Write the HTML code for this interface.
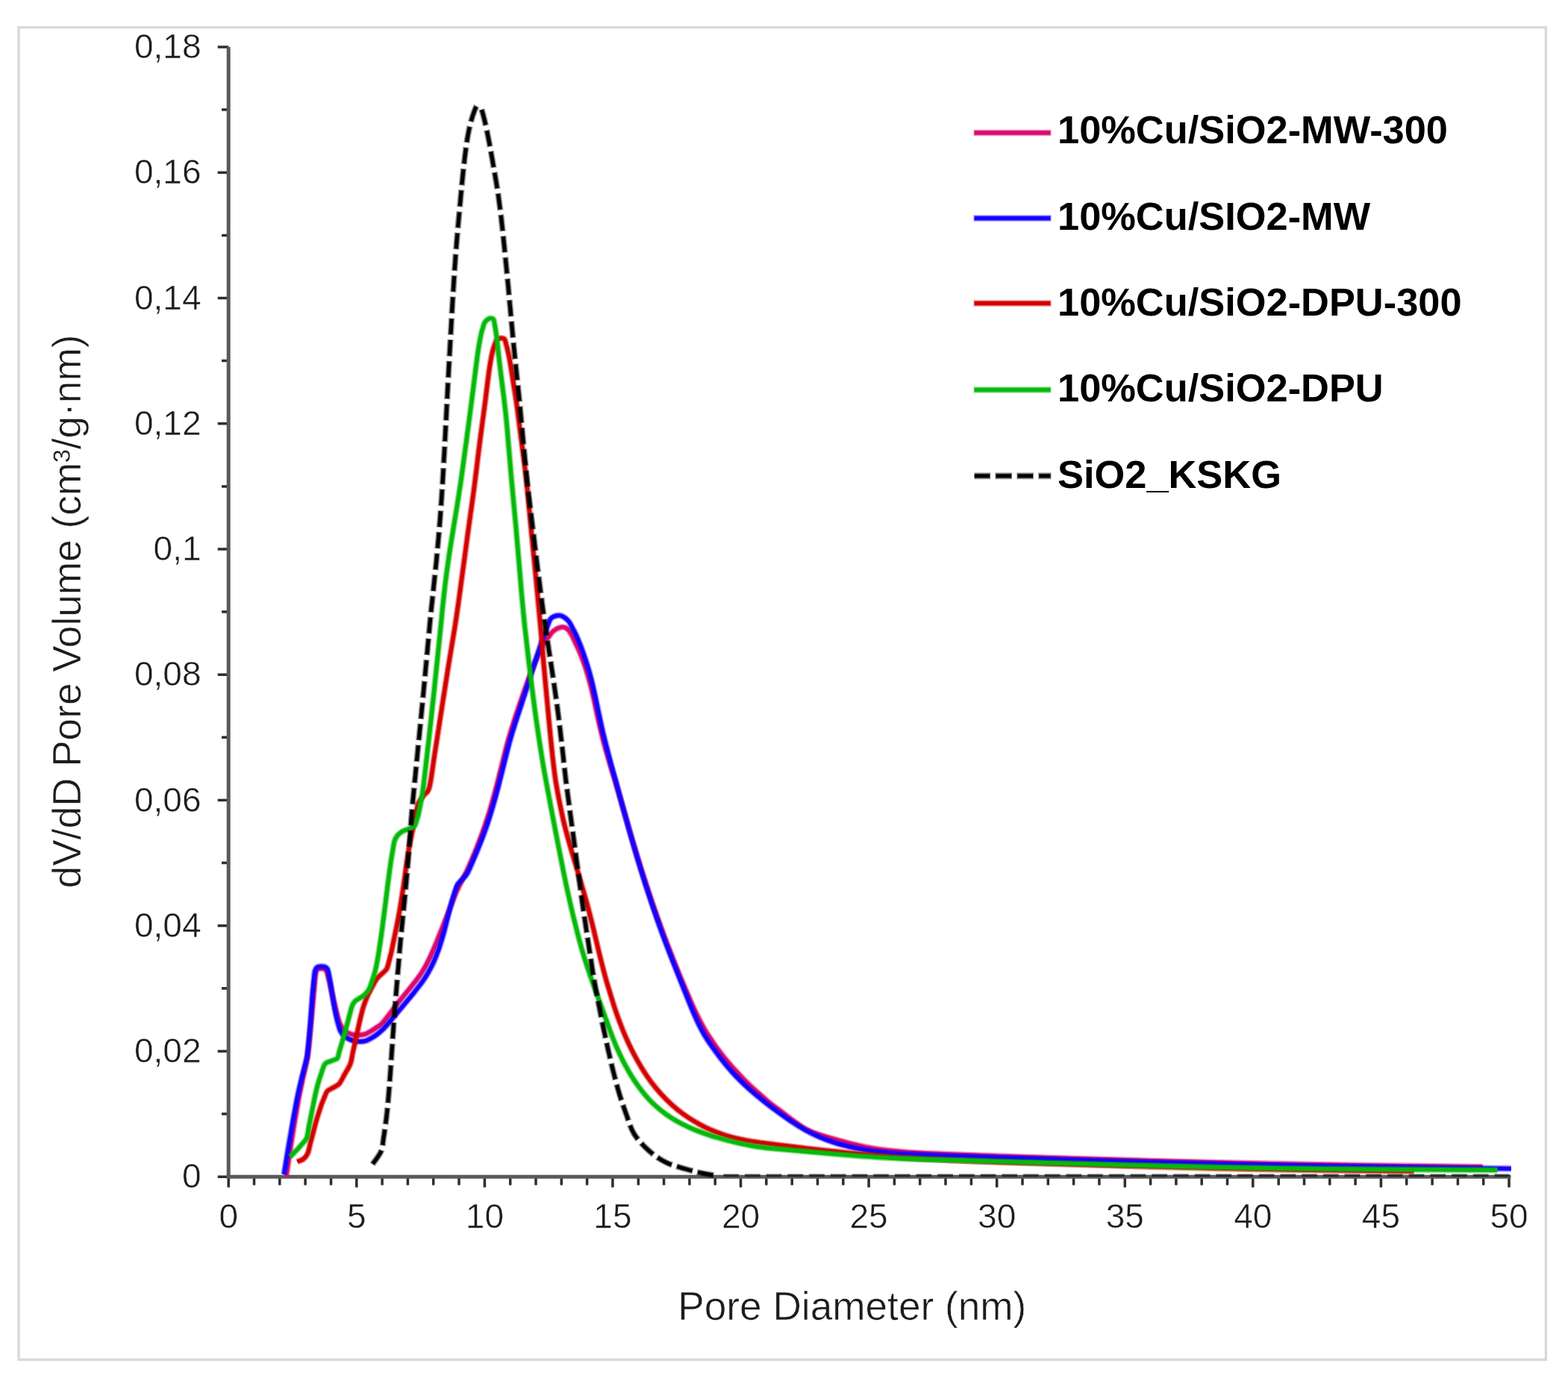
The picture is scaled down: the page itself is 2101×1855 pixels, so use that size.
<!DOCTYPE html>
<html lang="en"><head><meta charset="utf-8"><title>Pore size distribution</title>
<style>
html,body{margin:0;padding:0;background:#fff;}
body{width:2101px;height:1855px;overflow:hidden;}
svg{display:block;}
text{font-family:"Liberation Sans",Arial,Helvetica,sans-serif;}
.tick{font-size:46px;fill:#1c1c1c;stroke:#fff;stroke-width:0.5px;stroke-linejoin:round;}
.title{font-size:53.2px;fill:#1c1c1c;stroke:#fff;stroke-width:0.6px;stroke-linejoin:round;}
.leg{font-size:52.4px;font-weight:bold;fill:#000;}
.curve{fill:none;stroke-linejoin:round;stroke-linecap:butt;}
</style></head><body>
<svg xmlns="http://www.w3.org/2000/svg" width="2101" height="1855" viewBox="0 0 2101 1855">
<g>
<rect x="0" y="0" width="2101" height="1855" fill="#fff"/>
<rect x="25.0" y="36.7" width="2046.4" height="1785.6" fill="none" stroke="#d9d9d9" stroke-width="3.4"/>
<path d="M291.7 1577.2H306.2M297.0 1493.1H306.2M291.7 1409.0H306.2M297.0 1324.8H306.2M291.7 1240.7H306.2M297.0 1156.6H306.2M291.7 1072.5H306.2M297.0 988.3H306.2M291.7 904.2H306.2M297.0 820.1H306.2M291.7 736.0H306.2M297.0 651.9H306.2M291.7 567.7H306.2M297.0 483.6H306.2M291.7 399.5H306.2M297.0 315.4H306.2M291.7 231.2H306.2M297.0 147.1H306.2M291.7 63.0H306.2" stroke="#2e2e2e" stroke-width="3.5" fill="none"/>
<path d="M306.2 1577.2V1591.6M340.5 1577.2V1588.6M374.8 1577.2V1588.6M409.1 1577.2V1588.6M443.5 1577.2V1588.6M477.8 1577.2V1591.6M512.1 1577.2V1588.6M546.4 1577.2V1588.6M580.7 1577.2V1588.6M615.0 1577.2V1588.6M649.4 1577.2V1591.6M683.7 1577.2V1588.6M718.0 1577.2V1588.6M752.3 1577.2V1588.6M786.6 1577.2V1588.6M820.9 1577.2V1591.6M855.3 1577.2V1588.6M889.6 1577.2V1588.6M923.9 1577.2V1588.6M958.2 1577.2V1588.6M992.5 1577.2V1591.6M1026.8 1577.2V1588.6M1061.2 1577.2V1588.6M1095.5 1577.2V1588.6M1129.8 1577.2V1588.6M1164.1 1577.2V1591.6M1198.4 1577.2V1588.6M1232.7 1577.2V1588.6M1267.0 1577.2V1588.6M1301.4 1577.2V1588.6M1335.7 1577.2V1591.6M1370.0 1577.2V1588.6M1404.3 1577.2V1588.6M1438.6 1577.2V1588.6M1472.9 1577.2V1588.6M1507.3 1577.2V1591.6M1541.6 1577.2V1588.6M1575.9 1577.2V1588.6M1610.2 1577.2V1588.6M1644.5 1577.2V1588.6M1678.8 1577.2V1591.6M1713.2 1577.2V1588.6M1747.5 1577.2V1588.6M1781.8 1577.2V1588.6M1816.1 1577.2V1588.6M1850.4 1577.2V1591.6M1884.7 1577.2V1588.6M1919.1 1577.2V1588.6M1953.4 1577.2V1588.6M1987.7 1577.2V1588.6M2022.0 1577.2V1591.6" stroke="#2e2e2e" stroke-width="3.5" fill="none"/>
<path d="M306.2 63.0V1579.7" stroke="#5a5a5a" stroke-width="5.0" fill="none"/>
<path d="M303.7 1577.2H2024.5" stroke="#5a5a5a" stroke-width="5.0" fill="none"/>
<path d="M966.0 1575.4H2022.5" stroke="#000" stroke-width="3.6" stroke-dasharray="20.7 8" stroke-dashoffset="25.4" fill="none" opacity="0.6"/>
<path class="curve" d="M383.5 1577.0C384.8 1568.4 388.5 1542.7 391.2 1525.6C393.9 1508.5 397.4 1487.9 399.8 1474.5C402.3 1461.0 404.0 1453.5 405.9 1444.9C407.8 1436.3 409.8 1428.3 410.9 1422.7C412.1 1417.0 411.9 1419.4 412.9 1410.9C413.9 1402.4 415.4 1386.1 416.7 1371.8C418.1 1357.4 419.9 1336.2 421.0 1324.9C422.0 1313.5 422.3 1308.0 423.2 1303.7C424.1 1299.4 424.8 1299.9 426.4 1299.0C428.0 1298.1 430.8 1297.8 432.6 1298.2C434.4 1298.6 436.1 1299.4 437.3 1301.3C438.5 1303.2 438.7 1305.4 439.7 1309.3C440.8 1313.2 442.2 1319.0 443.5 1324.8C444.9 1330.7 446.5 1338.5 447.9 1344.3C449.3 1350.2 450.6 1355.3 451.8 1359.9C453.1 1364.5 453.9 1368.5 455.3 1371.8C456.7 1375.1 458.2 1377.5 460.0 1379.6C461.8 1381.7 463.9 1383.1 466.3 1384.3C468.7 1385.5 471.5 1386.5 474.1 1387.0C476.7 1387.5 479.3 1387.6 481.9 1387.4C484.5 1387.2 487.2 1386.8 489.8 1385.9C492.4 1385.0 494.8 1383.3 497.3 1381.8C499.8 1380.3 502.4 1378.6 505.0 1376.7C507.7 1374.8 508.5 1375.6 513.2 1370.2C517.9 1364.8 527.6 1351.5 533.3 1344.2C539.1 1336.8 543.6 1331.5 547.9 1326.1C552.2 1320.7 556.1 1316.1 559.3 1311.7C562.5 1307.4 564.5 1304.4 567.1 1300.1C569.7 1295.9 572.2 1291.2 574.7 1286.0C577.2 1280.8 580.0 1274.4 582.3 1269.0C584.6 1263.6 586.5 1258.6 588.5 1253.7C590.5 1248.7 592.1 1244.7 594.4 1239.0C596.7 1233.2 599.6 1225.7 602.2 1219.2C604.7 1212.7 607.6 1205.1 609.7 1199.8C611.8 1194.6 613.5 1191.1 615.1 1187.8C616.7 1184.5 617.6 1183.0 619.2 1179.8C620.9 1176.7 622.8 1173.1 624.9 1168.7C627.0 1164.3 629.3 1159.1 631.7 1153.4C634.1 1147.7 636.9 1140.9 639.4 1134.5C641.9 1128.1 644.6 1121.1 646.8 1115.0C649.0 1108.9 650.7 1103.9 652.6 1097.9C654.6 1091.9 656.6 1085.4 658.4 1078.9C660.3 1072.5 661.9 1066.6 663.8 1059.4C665.8 1052.2 667.9 1043.5 669.9 1035.5C672.0 1027.4 674.1 1018.5 676.0 1011.1C677.9 1003.6 679.6 997.0 681.4 990.6C683.2 984.2 684.6 979.6 686.8 972.7C689.0 965.7 691.8 957.3 694.6 948.9C697.5 940.5 700.5 931.6 703.8 922.3C707.1 913.0 711.5 901.1 714.7 893.3C717.8 885.4 720.0 880.7 722.5 875.3C724.9 869.8 727.4 864.2 729.6 860.5C731.8 856.8 733.6 855.6 735.5 853.1C737.5 850.7 738.7 847.9 741.4 845.8C744.1 843.7 748.8 841.3 751.7 840.7C754.6 840.1 756.9 840.8 759.0 842.1C761.1 843.4 762.7 845.6 764.6 848.7C766.5 851.8 768.5 856.3 770.5 860.5C772.5 864.7 774.3 868.4 776.6 873.8C778.8 879.3 781.6 886.2 783.9 893.1C786.2 900.0 788.5 907.7 790.4 915.0C792.4 922.3 794.0 929.5 795.7 936.8C797.3 944.1 798.8 951.5 800.4 958.9C802.1 966.2 803.6 973.4 805.4 980.8C807.2 988.1 809.1 995.5 811.1 1002.9C813.2 1010.2 815.3 1017.5 817.5 1024.8C819.7 1032.2 823.0 1042.5 824.5 1047.0C825.9 1051.6 822.8 1041.0 825.9 1052.0C829.1 1063.0 838.0 1094.3 843.4 1112.9C848.9 1131.5 853.8 1147.9 858.8 1163.7C863.8 1179.6 868.3 1193.3 873.3 1207.9C878.3 1222.6 883.9 1238.2 888.9 1251.7C893.9 1265.2 898.9 1277.6 903.3 1288.9C907.8 1300.1 910.9 1307.9 915.7 1319.1C920.5 1330.4 926.7 1345.3 932.0 1356.3C937.3 1367.3 941.2 1375.2 947.5 1385.3C953.8 1395.4 961.2 1406.2 969.7 1416.8C978.2 1427.3 989.1 1439.1 998.7 1448.8C1008.2 1458.5 1019.9 1468.4 1027.1 1474.7C1034.4 1480.9 1033.2 1479.8 1042.1 1486.3C1051.1 1492.9 1067.9 1507.1 1081.0 1514.0C1094.1 1520.9 1107.8 1523.8 1120.9 1527.6C1134.0 1531.5 1146.5 1534.7 1159.4 1537.3C1172.2 1539.8 1184.7 1541.4 1198.1 1542.8C1211.6 1544.3 1216.4 1544.7 1240.0 1545.8C1263.7 1546.9 1306.7 1548.4 1340.0 1549.6C1373.3 1550.8 1406.7 1551.7 1440.0 1552.7C1473.3 1553.7 1506.7 1554.7 1540.0 1555.7C1573.3 1556.6 1606.7 1557.5 1640.0 1558.3C1673.3 1559.0 1706.7 1559.7 1740.0 1560.4C1773.3 1561.0 1808.3 1561.6 1840.0 1562.1C1871.7 1562.6 1905.6 1563.0 1930.0 1563.3C1954.4 1563.6 1977.1 1563.9 1986.5 1564.0" stroke="#dc0a6e" stroke-width="8.60" stroke-opacity="0.45"/>
<path class="curve" d="M383.5 1577.0C384.8 1568.4 388.5 1542.7 391.2 1525.6C393.9 1508.5 397.4 1487.9 399.8 1474.5C402.3 1461.0 404.0 1453.5 405.9 1444.9C407.8 1436.3 409.8 1428.3 410.9 1422.7C412.1 1417.0 411.9 1419.4 412.9 1410.9C413.9 1402.4 415.4 1386.1 416.7 1371.8C418.1 1357.4 419.9 1336.2 421.0 1324.9C422.0 1313.5 422.3 1308.0 423.2 1303.7C424.1 1299.4 424.8 1299.9 426.4 1299.0C428.0 1298.1 430.8 1297.8 432.6 1298.2C434.4 1298.6 436.1 1299.4 437.3 1301.3C438.5 1303.2 438.7 1305.4 439.7 1309.3C440.8 1313.2 442.2 1319.0 443.5 1324.8C444.9 1330.7 446.5 1338.5 447.9 1344.3C449.3 1350.2 450.6 1355.3 451.8 1359.9C453.1 1364.5 453.9 1368.5 455.3 1371.8C456.7 1375.1 458.2 1377.5 460.0 1379.6C461.8 1381.7 463.9 1383.1 466.3 1384.3C468.7 1385.5 471.5 1386.5 474.1 1387.0C476.7 1387.5 479.3 1387.6 481.9 1387.4C484.5 1387.2 487.2 1386.8 489.8 1385.9C492.4 1385.0 494.8 1383.3 497.3 1381.8C499.8 1380.3 502.4 1378.6 505.0 1376.7C507.7 1374.8 508.5 1375.6 513.2 1370.2C517.9 1364.8 527.6 1351.5 533.3 1344.2C539.1 1336.8 543.6 1331.5 547.9 1326.1C552.2 1320.7 556.1 1316.1 559.3 1311.7C562.5 1307.4 564.5 1304.4 567.1 1300.1C569.7 1295.9 572.2 1291.2 574.7 1286.0C577.2 1280.8 580.0 1274.4 582.3 1269.0C584.6 1263.6 586.5 1258.6 588.5 1253.7C590.5 1248.7 592.1 1244.7 594.4 1239.0C596.7 1233.2 599.6 1225.7 602.2 1219.2C604.7 1212.7 607.6 1205.1 609.7 1199.8C611.8 1194.6 613.5 1191.1 615.1 1187.8C616.7 1184.5 617.6 1183.0 619.2 1179.8C620.9 1176.7 622.8 1173.1 624.9 1168.7C627.0 1164.3 629.3 1159.1 631.7 1153.4C634.1 1147.7 636.9 1140.9 639.4 1134.5C641.9 1128.1 644.6 1121.1 646.8 1115.0C649.0 1108.9 650.7 1103.9 652.6 1097.9C654.6 1091.9 656.6 1085.4 658.4 1078.9C660.3 1072.5 661.9 1066.6 663.8 1059.4C665.8 1052.2 667.9 1043.5 669.9 1035.5C672.0 1027.4 674.1 1018.5 676.0 1011.1C677.9 1003.6 679.6 997.0 681.4 990.6C683.2 984.2 684.6 979.6 686.8 972.7C689.0 965.7 691.8 957.3 694.6 948.9C697.5 940.5 700.5 931.6 703.8 922.3C707.1 913.0 711.5 901.1 714.7 893.3C717.8 885.4 720.0 880.7 722.5 875.3C724.9 869.8 727.4 864.2 729.6 860.5C731.8 856.8 733.6 855.6 735.5 853.1C737.5 850.7 738.7 847.9 741.4 845.8C744.1 843.7 748.8 841.3 751.7 840.7C754.6 840.1 756.9 840.8 759.0 842.1C761.1 843.4 762.7 845.6 764.6 848.7C766.5 851.8 768.5 856.3 770.5 860.5C772.5 864.7 774.3 868.4 776.6 873.8C778.8 879.3 781.6 886.2 783.9 893.1C786.2 900.0 788.5 907.7 790.4 915.0C792.4 922.3 794.0 929.5 795.7 936.8C797.3 944.1 798.8 951.5 800.4 958.9C802.1 966.2 803.6 973.4 805.4 980.8C807.2 988.1 809.1 995.5 811.1 1002.9C813.2 1010.2 815.3 1017.5 817.5 1024.8C819.7 1032.2 823.0 1042.5 824.5 1047.0C825.9 1051.6 822.8 1041.0 825.9 1052.0C829.1 1063.0 838.0 1094.3 843.4 1112.9C848.9 1131.5 853.8 1147.9 858.8 1163.7C863.8 1179.6 868.3 1193.3 873.3 1207.9C878.3 1222.6 883.9 1238.2 888.9 1251.7C893.9 1265.2 898.9 1277.6 903.3 1288.9C907.8 1300.1 910.9 1307.9 915.7 1319.1C920.5 1330.4 926.7 1345.3 932.0 1356.3C937.3 1367.3 941.2 1375.2 947.5 1385.3C953.8 1395.4 961.2 1406.2 969.7 1416.8C978.2 1427.3 989.1 1439.1 998.7 1448.8C1008.2 1458.5 1019.9 1468.4 1027.1 1474.7C1034.4 1480.9 1033.2 1479.8 1042.1 1486.3C1051.1 1492.9 1067.9 1507.1 1081.0 1514.0C1094.1 1520.9 1107.8 1523.8 1120.9 1527.6C1134.0 1531.5 1146.5 1534.7 1159.4 1537.3C1172.2 1539.8 1184.7 1541.4 1198.1 1542.8C1211.6 1544.3 1216.4 1544.7 1240.0 1545.8C1263.7 1546.9 1306.7 1548.4 1340.0 1549.6C1373.3 1550.8 1406.7 1551.7 1440.0 1552.7C1473.3 1553.7 1506.7 1554.7 1540.0 1555.7C1573.3 1556.6 1606.7 1557.5 1640.0 1558.3C1673.3 1559.0 1706.7 1559.7 1740.0 1560.4C1773.3 1561.0 1808.3 1561.6 1840.0 1562.1C1871.7 1562.6 1905.6 1563.0 1930.0 1563.3C1954.4 1563.6 1977.1 1563.9 1986.5 1564.0" stroke="#dc0a6e" stroke-width="5.40"/>
<path class="curve" d="M380.5 1574.0C381.8 1565.9 385.6 1542.1 388.5 1525.6C391.3 1509.0 395.0 1487.9 397.6 1474.5C400.2 1461.1 402.2 1453.7 404.2 1445.0C406.3 1436.4 408.6 1428.3 410.0 1422.6C411.3 1416.9 411.3 1418.0 412.1 1410.9C413.0 1403.7 414.4 1388.7 415.2 1379.6C416.0 1370.5 416.4 1363.9 417.0 1356.1C417.6 1348.3 418.1 1339.7 418.7 1332.6C419.3 1325.6 420.0 1319.1 420.5 1313.9C421.1 1308.6 421.4 1304.2 422.1 1301.3C422.8 1298.4 423.6 1297.6 424.8 1296.6C426.0 1295.6 427.8 1295.5 429.5 1295.4C431.2 1295.3 433.4 1295.2 435.0 1295.8C436.6 1296.4 437.9 1297.2 438.9 1299.0C439.9 1300.8 440.1 1303.9 440.8 1306.9C441.4 1309.9 442.0 1313.4 442.7 1317.0C443.3 1320.7 443.9 1324.8 444.5 1328.7C445.1 1332.6 445.7 1336.6 446.4 1340.5C447.0 1344.4 447.7 1348.3 448.4 1352.2C449.2 1356.1 450.0 1360.2 450.9 1363.8C451.7 1367.5 452.6 1370.9 453.5 1373.9C454.4 1377.0 454.9 1379.5 456.1 1381.9C457.3 1384.3 459.0 1386.4 460.8 1388.2C462.6 1390.0 464.8 1391.3 467.1 1392.5C469.5 1393.7 472.3 1394.6 474.9 1395.2C477.5 1395.8 480.1 1396.0 482.7 1396.0C485.3 1396.0 487.9 1395.7 490.5 1394.9C493.1 1394.1 495.5 1392.5 498.1 1391.1C500.6 1389.6 503.2 1388.0 505.8 1386.0C508.3 1384.0 511.0 1381.7 513.6 1379.2C516.2 1376.6 517.0 1375.7 521.4 1370.6C525.8 1365.4 534.5 1354.7 540.0 1348.2C545.4 1341.6 549.7 1336.6 554.1 1331.2C558.4 1325.8 562.8 1320.3 566.0 1315.8C569.3 1311.2 571.0 1308.5 573.6 1303.9C576.2 1299.4 579.2 1293.6 581.5 1288.4C583.8 1283.2 585.6 1278.6 587.7 1272.8C589.7 1267.0 592.1 1259.1 593.7 1253.5C595.4 1247.8 596.0 1244.9 597.6 1238.9C599.1 1232.9 601.1 1224.3 602.9 1217.5C604.7 1210.7 606.8 1203.4 608.5 1198.2C610.1 1193.0 611.2 1189.2 612.8 1186.1C614.4 1183.0 616.0 1182.4 618.2 1179.8C620.5 1177.2 623.6 1174.7 626.1 1170.5C628.6 1166.3 630.8 1160.5 633.4 1154.6C636.0 1148.7 639.0 1141.6 641.6 1135.1C644.3 1128.6 646.9 1121.7 649.1 1115.5C651.4 1109.4 653.1 1104.4 655.0 1098.4C657.0 1092.4 659.0 1085.9 660.8 1079.4C662.7 1073.0 664.3 1067.1 666.2 1059.9C668.2 1052.7 670.3 1044.0 672.3 1036.0C674.4 1027.9 676.5 1019.0 678.4 1011.6C680.3 1004.1 682.0 997.5 683.8 991.1C685.6 984.7 687.0 980.1 689.2 973.2C691.4 966.2 694.2 957.9 697.0 949.4C699.8 940.9 702.8 931.5 705.9 922.1C708.9 912.7 712.6 900.7 715.1 892.9C717.6 885.1 718.9 881.1 720.8 875.2C722.8 869.3 724.7 863.3 726.8 857.5C728.8 851.7 731.3 845.1 733.2 840.4C735.1 835.6 735.9 831.6 738.2 829.0C740.5 826.4 744.3 825.4 747.0 825.0C749.7 824.6 752.1 825.2 754.6 826.5C757.1 827.8 759.8 830.0 761.9 832.6C764.0 835.2 765.6 838.8 767.4 842.2C769.2 845.7 770.8 848.5 772.9 853.3C775.0 858.1 777.7 864.4 780.1 871.1C782.5 877.7 785.2 885.7 787.4 893.0C789.7 900.3 791.6 907.6 793.4 914.9C795.2 922.2 796.7 929.5 798.3 936.8C799.9 944.1 801.3 951.6 802.9 958.9C804.5 966.2 806.0 973.4 807.7 980.8C809.4 988.1 811.3 995.5 813.2 1002.9C815.1 1010.2 816.8 1016.8 819.0 1025.0C821.2 1033.2 822.3 1037.3 826.4 1052.0C830.4 1066.8 838.1 1094.8 843.4 1113.6C848.7 1132.4 853.6 1148.9 858.4 1164.8C863.3 1180.8 867.7 1194.4 872.6 1209.1C877.5 1223.8 883.0 1239.4 887.9 1252.9C892.8 1266.3 897.6 1278.6 902.0 1289.8C906.4 1301.0 910.8 1311.9 914.1 1320.2C917.4 1328.4 919.1 1332.7 921.6 1339.1C924.2 1345.4 926.8 1352.2 929.4 1358.0C931.9 1363.8 934.3 1369.1 936.8 1374.0C939.2 1378.9 941.5 1383.1 943.9 1387.3C946.4 1391.5 947.6 1393.6 951.4 1399.0C955.1 1404.3 961.4 1413.0 966.3 1419.4C971.2 1425.7 976.1 1431.5 981.0 1436.9C985.8 1442.3 990.6 1447.1 995.4 1451.8C1000.2 1456.5 1005.1 1460.8 1010.0 1465.0C1014.8 1469.1 1019.5 1472.9 1024.5 1476.8C1029.5 1480.8 1034.0 1484.2 1039.9 1488.6C1045.9 1493.0 1053.7 1498.7 1060.3 1503.1C1066.9 1507.5 1073.1 1511.4 1079.6 1515.0C1086.1 1518.6 1092.7 1521.8 1099.2 1524.5C1105.7 1527.3 1112.1 1529.6 1118.6 1531.6C1125.0 1533.7 1131.4 1535.3 1137.9 1536.9C1144.4 1538.4 1151.0 1539.7 1157.5 1540.8C1164.0 1542.0 1170.5 1543.0 1177.1 1543.8C1183.6 1544.6 1186.1 1544.9 1196.6 1545.6C1207.1 1546.4 1216.1 1547.0 1240.0 1548.0C1263.9 1549.0 1306.7 1550.5 1340.0 1551.6C1373.3 1552.7 1406.7 1553.7 1440.0 1554.7C1473.3 1555.7 1506.7 1556.6 1540.0 1557.6C1573.3 1558.5 1606.7 1559.4 1640.0 1560.2C1673.3 1560.9 1706.7 1561.6 1740.0 1562.3C1773.3 1562.9 1808.3 1563.4 1840.0 1563.9C1871.7 1564.4 1899.2 1564.8 1930.0 1565.2C1960.8 1565.6 2009.0 1566.2 2024.8 1566.4" stroke="#1400ff" stroke-width="8.60" stroke-opacity="0.45"/>
<path class="curve" d="M380.5 1574.0C381.8 1565.9 385.6 1542.1 388.5 1525.6C391.3 1509.0 395.0 1487.9 397.6 1474.5C400.2 1461.1 402.2 1453.7 404.2 1445.0C406.3 1436.4 408.6 1428.3 410.0 1422.6C411.3 1416.9 411.3 1418.0 412.1 1410.9C413.0 1403.7 414.4 1388.7 415.2 1379.6C416.0 1370.5 416.4 1363.9 417.0 1356.1C417.6 1348.3 418.1 1339.7 418.7 1332.6C419.3 1325.6 420.0 1319.1 420.5 1313.9C421.1 1308.6 421.4 1304.2 422.1 1301.3C422.8 1298.4 423.6 1297.6 424.8 1296.6C426.0 1295.6 427.8 1295.5 429.5 1295.4C431.2 1295.3 433.4 1295.2 435.0 1295.8C436.6 1296.4 437.9 1297.2 438.9 1299.0C439.9 1300.8 440.1 1303.9 440.8 1306.9C441.4 1309.9 442.0 1313.4 442.7 1317.0C443.3 1320.7 443.9 1324.8 444.5 1328.7C445.1 1332.6 445.7 1336.6 446.4 1340.5C447.0 1344.4 447.7 1348.3 448.4 1352.2C449.2 1356.1 450.0 1360.2 450.9 1363.8C451.7 1367.5 452.6 1370.9 453.5 1373.9C454.4 1377.0 454.9 1379.5 456.1 1381.9C457.3 1384.3 459.0 1386.4 460.8 1388.2C462.6 1390.0 464.8 1391.3 467.1 1392.5C469.5 1393.7 472.3 1394.6 474.9 1395.2C477.5 1395.8 480.1 1396.0 482.7 1396.0C485.3 1396.0 487.9 1395.7 490.5 1394.9C493.1 1394.1 495.5 1392.5 498.1 1391.1C500.6 1389.6 503.2 1388.0 505.8 1386.0C508.3 1384.0 511.0 1381.7 513.6 1379.2C516.2 1376.6 517.0 1375.7 521.4 1370.6C525.8 1365.4 534.5 1354.7 540.0 1348.2C545.4 1341.6 549.7 1336.6 554.1 1331.2C558.4 1325.8 562.8 1320.3 566.0 1315.8C569.3 1311.2 571.0 1308.5 573.6 1303.9C576.2 1299.4 579.2 1293.6 581.5 1288.4C583.8 1283.2 585.6 1278.6 587.7 1272.8C589.7 1267.0 592.1 1259.1 593.7 1253.5C595.4 1247.8 596.0 1244.9 597.6 1238.9C599.1 1232.9 601.1 1224.3 602.9 1217.5C604.7 1210.7 606.8 1203.4 608.5 1198.2C610.1 1193.0 611.2 1189.2 612.8 1186.1C614.4 1183.0 616.0 1182.4 618.2 1179.8C620.5 1177.2 623.6 1174.7 626.1 1170.5C628.6 1166.3 630.8 1160.5 633.4 1154.6C636.0 1148.7 639.0 1141.6 641.6 1135.1C644.3 1128.6 646.9 1121.7 649.1 1115.5C651.4 1109.4 653.1 1104.4 655.0 1098.4C657.0 1092.4 659.0 1085.9 660.8 1079.4C662.7 1073.0 664.3 1067.1 666.2 1059.9C668.2 1052.7 670.3 1044.0 672.3 1036.0C674.4 1027.9 676.5 1019.0 678.4 1011.6C680.3 1004.1 682.0 997.5 683.8 991.1C685.6 984.7 687.0 980.1 689.2 973.2C691.4 966.2 694.2 957.9 697.0 949.4C699.8 940.9 702.8 931.5 705.9 922.1C708.9 912.7 712.6 900.7 715.1 892.9C717.6 885.1 718.9 881.1 720.8 875.2C722.8 869.3 724.7 863.3 726.8 857.5C728.8 851.7 731.3 845.1 733.2 840.4C735.1 835.6 735.9 831.6 738.2 829.0C740.5 826.4 744.3 825.4 747.0 825.0C749.7 824.6 752.1 825.2 754.6 826.5C757.1 827.8 759.8 830.0 761.9 832.6C764.0 835.2 765.6 838.8 767.4 842.2C769.2 845.7 770.8 848.5 772.9 853.3C775.0 858.1 777.7 864.4 780.1 871.1C782.5 877.7 785.2 885.7 787.4 893.0C789.7 900.3 791.6 907.6 793.4 914.9C795.2 922.2 796.7 929.5 798.3 936.8C799.9 944.1 801.3 951.6 802.9 958.9C804.5 966.2 806.0 973.4 807.7 980.8C809.4 988.1 811.3 995.5 813.2 1002.9C815.1 1010.2 816.8 1016.8 819.0 1025.0C821.2 1033.2 822.3 1037.3 826.4 1052.0C830.4 1066.8 838.1 1094.8 843.4 1113.6C848.7 1132.4 853.6 1148.9 858.4 1164.8C863.3 1180.8 867.7 1194.4 872.6 1209.1C877.5 1223.8 883.0 1239.4 887.9 1252.9C892.8 1266.3 897.6 1278.6 902.0 1289.8C906.4 1301.0 910.8 1311.9 914.1 1320.2C917.4 1328.4 919.1 1332.7 921.6 1339.1C924.2 1345.4 926.8 1352.2 929.4 1358.0C931.9 1363.8 934.3 1369.1 936.8 1374.0C939.2 1378.9 941.5 1383.1 943.9 1387.3C946.4 1391.5 947.6 1393.6 951.4 1399.0C955.1 1404.3 961.4 1413.0 966.3 1419.4C971.2 1425.7 976.1 1431.5 981.0 1436.9C985.8 1442.3 990.6 1447.1 995.4 1451.8C1000.2 1456.5 1005.1 1460.8 1010.0 1465.0C1014.8 1469.1 1019.5 1472.9 1024.5 1476.8C1029.5 1480.8 1034.0 1484.2 1039.9 1488.6C1045.9 1493.0 1053.7 1498.7 1060.3 1503.1C1066.9 1507.5 1073.1 1511.4 1079.6 1515.0C1086.1 1518.6 1092.7 1521.8 1099.2 1524.5C1105.7 1527.3 1112.1 1529.6 1118.6 1531.6C1125.0 1533.7 1131.4 1535.3 1137.9 1536.9C1144.4 1538.4 1151.0 1539.7 1157.5 1540.8C1164.0 1542.0 1170.5 1543.0 1177.1 1543.8C1183.6 1544.6 1186.1 1544.9 1196.6 1545.6C1207.1 1546.4 1216.1 1547.0 1240.0 1548.0C1263.9 1549.0 1306.7 1550.5 1340.0 1551.6C1373.3 1552.7 1406.7 1553.7 1440.0 1554.7C1473.3 1555.7 1506.7 1556.6 1540.0 1557.6C1573.3 1558.5 1606.7 1559.4 1640.0 1560.2C1673.3 1560.9 1706.7 1561.6 1740.0 1562.3C1773.3 1562.9 1808.3 1563.4 1840.0 1563.9C1871.7 1564.4 1899.2 1564.8 1930.0 1565.2C1960.8 1565.6 2009.0 1566.2 2024.8 1566.4" stroke="#1400ff" stroke-width="5.40"/>
<path class="curve" d="M398.3 1557.2C399.6 1556.6 404.1 1555.3 406.4 1553.5C408.7 1551.7 410.6 1549.8 412.2 1546.1C413.8 1542.4 414.6 1537.2 416.1 1531.4C417.7 1525.5 419.9 1516.9 421.5 1511.0C423.0 1505.2 424.1 1501.1 425.6 1496.3C427.1 1491.4 428.8 1486.0 430.3 1481.6C431.9 1477.3 433.6 1473.3 434.9 1470.1C436.3 1466.9 436.7 1464.5 438.7 1462.4C440.7 1460.3 444.4 1459.1 447.1 1457.4C449.8 1455.7 452.4 1455.1 454.8 1452.2C457.2 1449.3 459.3 1444.5 461.7 1440.1C464.2 1435.7 467.7 1430.5 469.5 1425.7C471.3 1420.9 471.6 1416.1 472.7 1411.0C473.8 1406.0 475.1 1400.4 476.2 1395.1C477.4 1389.9 478.5 1384.8 479.6 1379.6C480.7 1374.4 482.0 1368.5 483.1 1364.0C484.2 1359.4 485.1 1355.9 486.1 1352.3C487.2 1348.6 488.2 1345.4 489.5 1342.2C490.7 1338.9 491.9 1336.0 493.4 1332.9C494.9 1329.7 496.6 1326.6 498.4 1323.2C500.3 1319.8 502.3 1315.4 504.6 1312.3C506.9 1309.2 510.3 1306.6 512.5 1304.4C514.7 1302.2 516.5 1301.5 518.0 1298.9C519.5 1296.3 520.2 1292.2 521.2 1288.5C522.2 1284.8 523.2 1280.9 524.2 1277.0C525.1 1273.1 525.8 1269.1 526.6 1265.2C527.4 1261.3 528.2 1257.4 529.0 1253.5C529.8 1249.6 530.6 1245.6 531.4 1241.7C532.2 1237.9 532.6 1236.2 533.6 1230.4C534.7 1224.7 536.4 1215.1 537.6 1207.3C538.9 1199.6 540.0 1191.7 541.2 1183.9C542.3 1176.1 543.3 1168.2 544.4 1160.4C545.6 1152.6 546.9 1143.6 548.0 1137.1C549.1 1130.6 550.0 1126.0 551.0 1121.4C551.9 1116.8 552.7 1113.5 553.5 1109.5C554.4 1105.6 555.4 1101.1 556.1 1097.8C556.8 1094.5 557.0 1093.5 557.7 1090.0C558.5 1086.5 558.8 1081.1 560.5 1077.0C562.2 1072.9 565.7 1069.1 568.2 1065.5C570.7 1061.8 573.0 1064.2 575.4 1055.0C577.8 1045.8 579.8 1027.5 582.5 1010.3C585.2 993.0 588.6 971.1 591.6 951.5C594.7 931.9 598.1 910.0 600.8 892.9C603.6 875.7 606.6 858.2 608.1 848.8C609.6 839.4 609.0 843.5 610.1 836.5C611.1 829.6 613.0 816.9 614.4 807.1C615.8 797.3 617.1 787.4 618.4 777.6C619.8 767.8 621.1 758.0 622.4 748.2C623.7 738.4 625.0 728.6 626.3 718.8C627.7 709.0 629.0 699.2 630.4 689.4C631.8 679.6 633.3 668.6 634.5 660.0C635.7 651.3 636.4 645.1 637.4 637.4C638.4 629.7 639.3 621.7 640.2 613.9C641.2 606.1 642.2 598.2 643.2 590.4C644.2 582.6 645.2 575.3 646.3 567.0C647.4 558.8 648.7 549.2 649.8 540.9C650.9 532.7 651.8 524.6 652.7 517.4C653.6 510.2 654.4 503.7 655.2 497.8C656.1 492.0 656.8 486.8 657.7 482.3C658.5 477.7 659.3 473.8 660.1 470.6C660.9 467.4 661.7 465.1 662.5 462.8C663.4 460.5 664.0 458.1 665.1 456.6C666.2 455.1 667.8 454.3 669.1 453.8C670.4 453.3 671.8 453.2 673.0 453.4C674.2 453.6 675.2 453.5 676.1 454.8C677.0 456.1 677.4 458.6 678.1 461.2C678.9 463.8 679.8 467.1 680.5 470.6C681.3 474.1 682.1 477.7 682.9 482.3C683.7 486.8 684.6 492.6 685.5 497.8C686.3 503.0 687.0 507.6 687.9 513.5C688.9 519.4 690.3 528.5 691.0 533.1C691.7 537.7 691.4 535.4 692.2 541.0C693.0 546.7 694.5 558.8 695.6 567.0C696.6 575.2 697.6 582.6 698.6 590.4C699.6 598.2 700.7 606.1 701.7 613.9C702.7 621.7 703.7 629.7 704.6 637.4C705.5 645.1 706.1 651.4 707.0 660.0C707.9 668.7 708.8 679.6 709.8 689.4C710.7 699.2 711.6 709.0 712.6 718.8C713.5 728.6 714.5 738.4 715.5 748.2C716.4 758.0 717.4 767.8 718.4 777.6C719.3 787.4 720.3 797.3 721.2 807.1C722.1 816.9 723.3 829.7 723.9 836.6C724.6 843.5 724.0 836.9 725.0 848.7C726.0 860.5 728.3 887.9 730.1 907.5C731.9 927.0 733.7 946.6 735.6 966.2C737.5 985.8 739.9 1010.2 741.7 1025.0C743.4 1039.7 743.7 1042.5 745.9 1054.8C748.0 1067.1 752.0 1086.5 754.7 1098.8C757.5 1111.0 759.6 1118.5 762.4 1128.4C765.1 1138.2 768.1 1148.0 771.0 1157.8C773.9 1167.6 776.9 1177.4 779.7 1187.2C782.6 1197.0 785.4 1206.9 788.0 1216.7C790.6 1226.5 793.0 1236.3 795.4 1246.0C797.8 1255.8 799.9 1265.4 802.3 1275.2C804.7 1284.9 807.7 1296.9 809.7 1304.4C811.7 1311.9 812.0 1313.1 814.1 1320.1C816.2 1327.0 819.6 1338.2 822.1 1346.3C824.7 1354.3 826.9 1360.9 829.7 1368.3C832.4 1375.6 835.3 1382.9 838.5 1390.2C841.7 1397.5 845.2 1405.0 848.9 1412.1C852.6 1419.2 856.7 1426.3 860.6 1432.7C864.5 1439.0 868.2 1444.5 872.4 1450.1C876.6 1455.7 880.9 1461.0 885.6 1466.1C890.2 1471.2 895.3 1476.3 900.2 1480.7C905.1 1485.1 909.9 1489.0 914.7 1492.6C919.6 1496.2 924.4 1499.3 929.2 1502.2C934.1 1505.2 939.0 1507.9 943.9 1510.3C948.8 1512.8 953.6 1514.9 958.5 1516.8C963.3 1518.8 968.2 1520.5 973.1 1522.0C978.0 1523.5 982.8 1524.7 987.7 1525.9C992.6 1527.0 997.5 1528.0 1002.4 1528.9C1007.2 1529.8 1012.1 1530.5 1017.0 1531.2C1021.9 1531.9 1026.8 1532.5 1031.7 1533.1C1036.6 1533.8 1038.4 1534.0 1046.3 1534.9C1054.2 1535.9 1067.1 1537.5 1079.1 1538.9C1091.0 1540.3 1105.0 1541.8 1118.0 1543.2C1131.0 1544.5 1143.3 1545.8 1157.0 1547.0C1170.7 1548.3 1186.2 1549.8 1200.0 1550.9C1213.9 1552.0 1216.8 1552.4 1240.1 1553.5C1263.4 1554.7 1306.7 1556.5 1340.0 1557.7C1373.3 1558.9 1406.7 1559.8 1440.0 1560.8C1473.3 1561.7 1506.7 1562.7 1540.0 1563.6C1573.3 1564.4 1606.7 1565.3 1640.0 1566.1C1673.3 1566.8 1706.7 1567.4 1740.0 1568.0C1773.3 1568.5 1814.3 1569.0 1840.0 1569.3C1865.8 1569.6 1885.4 1569.8 1894.5 1569.9" stroke="#d40000" stroke-width="8.60" stroke-opacity="0.45"/>
<path class="curve" d="M398.3 1557.2C399.6 1556.6 404.1 1555.3 406.4 1553.5C408.7 1551.7 410.6 1549.8 412.2 1546.1C413.8 1542.4 414.6 1537.2 416.1 1531.4C417.7 1525.5 419.9 1516.9 421.5 1511.0C423.0 1505.2 424.1 1501.1 425.6 1496.3C427.1 1491.4 428.8 1486.0 430.3 1481.6C431.9 1477.3 433.6 1473.3 434.9 1470.1C436.3 1466.9 436.7 1464.5 438.7 1462.4C440.7 1460.3 444.4 1459.1 447.1 1457.4C449.8 1455.7 452.4 1455.1 454.8 1452.2C457.2 1449.3 459.3 1444.5 461.7 1440.1C464.2 1435.7 467.7 1430.5 469.5 1425.7C471.3 1420.9 471.6 1416.1 472.7 1411.0C473.8 1406.0 475.1 1400.4 476.2 1395.1C477.4 1389.9 478.5 1384.8 479.6 1379.6C480.7 1374.4 482.0 1368.5 483.1 1364.0C484.2 1359.4 485.1 1355.9 486.1 1352.3C487.2 1348.6 488.2 1345.4 489.5 1342.2C490.7 1338.9 491.9 1336.0 493.4 1332.9C494.9 1329.7 496.6 1326.6 498.4 1323.2C500.3 1319.8 502.3 1315.4 504.6 1312.3C506.9 1309.2 510.3 1306.6 512.5 1304.4C514.7 1302.2 516.5 1301.5 518.0 1298.9C519.5 1296.3 520.2 1292.2 521.2 1288.5C522.2 1284.8 523.2 1280.9 524.2 1277.0C525.1 1273.1 525.8 1269.1 526.6 1265.2C527.4 1261.3 528.2 1257.4 529.0 1253.5C529.8 1249.6 530.6 1245.6 531.4 1241.7C532.2 1237.9 532.6 1236.2 533.6 1230.4C534.7 1224.7 536.4 1215.1 537.6 1207.3C538.9 1199.6 540.0 1191.7 541.2 1183.9C542.3 1176.1 543.3 1168.2 544.4 1160.4C545.6 1152.6 546.9 1143.6 548.0 1137.1C549.1 1130.6 550.0 1126.0 551.0 1121.4C551.9 1116.8 552.7 1113.5 553.5 1109.5C554.4 1105.6 555.4 1101.1 556.1 1097.8C556.8 1094.5 557.0 1093.5 557.7 1090.0C558.5 1086.5 558.8 1081.1 560.5 1077.0C562.2 1072.9 565.7 1069.1 568.2 1065.5C570.7 1061.8 573.0 1064.2 575.4 1055.0C577.8 1045.8 579.8 1027.5 582.5 1010.3C585.2 993.0 588.6 971.1 591.6 951.5C594.7 931.9 598.1 910.0 600.8 892.9C603.6 875.7 606.6 858.2 608.1 848.8C609.6 839.4 609.0 843.5 610.1 836.5C611.1 829.6 613.0 816.9 614.4 807.1C615.8 797.3 617.1 787.4 618.4 777.6C619.8 767.8 621.1 758.0 622.4 748.2C623.7 738.4 625.0 728.6 626.3 718.8C627.7 709.0 629.0 699.2 630.4 689.4C631.8 679.6 633.3 668.6 634.5 660.0C635.7 651.3 636.4 645.1 637.4 637.4C638.4 629.7 639.3 621.7 640.2 613.9C641.2 606.1 642.2 598.2 643.2 590.4C644.2 582.6 645.2 575.3 646.3 567.0C647.4 558.8 648.7 549.2 649.8 540.9C650.9 532.7 651.8 524.6 652.7 517.4C653.6 510.2 654.4 503.7 655.2 497.8C656.1 492.0 656.8 486.8 657.7 482.3C658.5 477.7 659.3 473.8 660.1 470.6C660.9 467.4 661.7 465.1 662.5 462.8C663.4 460.5 664.0 458.1 665.1 456.6C666.2 455.1 667.8 454.3 669.1 453.8C670.4 453.3 671.8 453.2 673.0 453.4C674.2 453.6 675.2 453.5 676.1 454.8C677.0 456.1 677.4 458.6 678.1 461.2C678.9 463.8 679.8 467.1 680.5 470.6C681.3 474.1 682.1 477.7 682.9 482.3C683.7 486.8 684.6 492.6 685.5 497.8C686.3 503.0 687.0 507.6 687.9 513.5C688.9 519.4 690.3 528.5 691.0 533.1C691.7 537.7 691.4 535.4 692.2 541.0C693.0 546.7 694.5 558.8 695.6 567.0C696.6 575.2 697.6 582.6 698.6 590.4C699.6 598.2 700.7 606.1 701.7 613.9C702.7 621.7 703.7 629.7 704.6 637.4C705.5 645.1 706.1 651.4 707.0 660.0C707.9 668.7 708.8 679.6 709.8 689.4C710.7 699.2 711.6 709.0 712.6 718.8C713.5 728.6 714.5 738.4 715.5 748.2C716.4 758.0 717.4 767.8 718.4 777.6C719.3 787.4 720.3 797.3 721.2 807.1C722.1 816.9 723.3 829.7 723.9 836.6C724.6 843.5 724.0 836.9 725.0 848.7C726.0 860.5 728.3 887.9 730.1 907.5C731.9 927.0 733.7 946.6 735.6 966.2C737.5 985.8 739.9 1010.2 741.7 1025.0C743.4 1039.7 743.7 1042.5 745.9 1054.8C748.0 1067.1 752.0 1086.5 754.7 1098.8C757.5 1111.0 759.6 1118.5 762.4 1128.4C765.1 1138.2 768.1 1148.0 771.0 1157.8C773.9 1167.6 776.9 1177.4 779.7 1187.2C782.6 1197.0 785.4 1206.9 788.0 1216.7C790.6 1226.5 793.0 1236.3 795.4 1246.0C797.8 1255.8 799.9 1265.4 802.3 1275.2C804.7 1284.9 807.7 1296.9 809.7 1304.4C811.7 1311.9 812.0 1313.1 814.1 1320.1C816.2 1327.0 819.6 1338.2 822.1 1346.3C824.7 1354.3 826.9 1360.9 829.7 1368.3C832.4 1375.6 835.3 1382.9 838.5 1390.2C841.7 1397.5 845.2 1405.0 848.9 1412.1C852.6 1419.2 856.7 1426.3 860.6 1432.7C864.5 1439.0 868.2 1444.5 872.4 1450.1C876.6 1455.7 880.9 1461.0 885.6 1466.1C890.2 1471.2 895.3 1476.3 900.2 1480.7C905.1 1485.1 909.9 1489.0 914.7 1492.6C919.6 1496.2 924.4 1499.3 929.2 1502.2C934.1 1505.2 939.0 1507.9 943.9 1510.3C948.8 1512.8 953.6 1514.9 958.5 1516.8C963.3 1518.8 968.2 1520.5 973.1 1522.0C978.0 1523.5 982.8 1524.7 987.7 1525.9C992.6 1527.0 997.5 1528.0 1002.4 1528.9C1007.2 1529.8 1012.1 1530.5 1017.0 1531.2C1021.9 1531.9 1026.8 1532.5 1031.7 1533.1C1036.6 1533.8 1038.4 1534.0 1046.3 1534.9C1054.2 1535.9 1067.1 1537.5 1079.1 1538.9C1091.0 1540.3 1105.0 1541.8 1118.0 1543.2C1131.0 1544.5 1143.3 1545.8 1157.0 1547.0C1170.7 1548.3 1186.2 1549.8 1200.0 1550.9C1213.9 1552.0 1216.8 1552.4 1240.1 1553.5C1263.4 1554.7 1306.7 1556.5 1340.0 1557.7C1373.3 1558.9 1406.7 1559.8 1440.0 1560.8C1473.3 1561.7 1506.7 1562.7 1540.0 1563.6C1573.3 1564.4 1606.7 1565.3 1640.0 1566.1C1673.3 1566.8 1706.7 1567.4 1740.0 1568.0C1773.3 1568.5 1814.3 1569.0 1840.0 1569.3C1865.8 1569.6 1885.4 1569.8 1894.5 1569.9" stroke="#d40000" stroke-width="5.40"/>
<path class="curve" d="M388.7 1550.5C389.9 1549.3 393.6 1545.6 396.0 1543.1C398.4 1540.6 400.4 1538.4 402.9 1535.4C405.3 1532.5 409.0 1529.7 410.8 1525.6C412.6 1521.5 412.7 1515.8 413.7 1510.9C414.7 1506.0 415.7 1501.1 416.6 1496.2C417.6 1491.3 418.6 1486.4 419.6 1481.5C420.6 1476.6 421.5 1471.7 422.6 1466.8C423.7 1462.0 424.7 1457.2 426.1 1452.4C427.5 1447.5 429.2 1442.3 430.8 1437.8C432.4 1433.4 433.4 1428.4 435.7 1425.7C438.0 1423.0 441.7 1423.1 444.4 1421.8C447.1 1420.6 450.3 1420.2 451.9 1418.4C453.5 1416.6 453.1 1414.8 454.2 1410.9C455.3 1407.1 457.4 1399.9 458.8 1395.3C460.1 1390.7 461.1 1387.3 462.2 1383.4C463.3 1379.5 464.2 1375.9 465.4 1371.8C466.5 1367.6 467.8 1362.5 468.9 1358.6C470.0 1354.7 470.7 1351.1 471.8 1348.3C472.9 1345.5 474.1 1343.7 475.7 1342.0C477.3 1340.3 479.3 1339.5 481.3 1338.2C483.2 1336.9 485.3 1336.1 487.4 1334.2C489.5 1332.3 491.9 1330.1 493.7 1327.1C495.5 1324.1 496.7 1320.5 498.2 1316.1C499.7 1311.6 501.6 1305.5 503.0 1300.3C504.3 1295.1 505.2 1290.0 506.1 1284.8C507.1 1279.6 507.8 1274.3 508.6 1269.1C509.4 1263.9 510.2 1258.0 510.9 1253.5C511.5 1248.9 512.0 1245.4 512.5 1241.7C513.0 1238.0 513.1 1236.7 513.9 1231.0C514.6 1225.3 516.0 1214.6 516.9 1207.4C517.8 1200.2 518.5 1194.3 519.3 1187.8C520.2 1181.3 521.1 1174.2 521.9 1168.3C522.7 1162.5 523.3 1157.8 524.1 1152.6C524.9 1147.4 526.0 1141.4 526.7 1137.1C527.5 1132.8 527.7 1129.7 528.7 1126.8C529.7 1123.9 531.0 1121.7 532.6 1119.7C534.2 1117.7 536.1 1116.3 538.1 1115.0C540.1 1113.7 542.4 1113.0 544.5 1112.1C546.6 1111.2 548.7 1110.7 550.6 1109.6C552.5 1108.5 554.7 1107.7 556.1 1105.7C557.5 1103.7 558.1 1100.3 558.9 1097.7C559.7 1095.1 560.0 1094.5 561.0 1089.9C562.0 1085.2 563.9 1075.5 564.9 1069.7C566.0 1063.9 565.5 1068.3 567.2 1054.9C568.8 1041.4 572.4 1011.0 574.8 989.0C577.3 967.0 579.6 945.2 582.0 923.0C584.3 900.8 587.4 870.4 588.9 856.0C590.4 841.6 590.1 844.7 590.9 836.6C591.7 828.4 592.7 817.0 593.8 807.1C594.9 797.3 595.9 787.4 597.2 777.6C598.4 767.8 599.8 758.1 601.2 748.3C602.6 738.5 604.2 728.6 605.8 718.8C607.3 709.0 609.0 699.2 610.6 689.4C612.2 679.6 614.0 668.6 615.3 659.9C616.7 651.3 617.6 645.1 618.6 637.4C619.7 629.7 620.8 621.7 621.8 613.9C622.9 606.1 623.9 598.2 625.0 590.4C626.0 582.6 627.0 575.2 628.1 567.0C629.2 558.8 630.4 549.3 631.5 541.0C632.6 532.7 633.6 524.6 634.5 517.4C635.4 510.2 636.2 504.3 637.0 497.8C637.8 491.3 638.7 484.2 639.5 478.3C640.3 472.5 641.0 467.6 641.9 462.6C642.7 457.7 643.6 452.5 644.5 448.6C645.3 444.7 646.1 442.0 647.0 439.3C647.8 436.5 648.4 433.9 649.5 432.1C650.6 430.3 652.1 429.1 653.4 428.2C654.7 427.3 656.0 426.6 657.3 426.6C658.6 426.6 660.3 426.7 661.2 428.2C662.1 429.7 662.3 432.2 662.9 435.4C663.5 438.5 664.2 442.5 664.8 447.0C665.5 451.6 666.1 457.4 666.7 462.6C667.3 467.8 667.7 472.4 668.4 478.3C669.1 484.2 669.9 491.3 670.7 497.8C671.5 504.3 672.2 509.7 673.2 517.4C674.1 525.0 675.5 535.3 676.4 543.6C677.4 551.8 678.1 559.2 678.9 567.0C679.6 574.8 680.3 582.6 680.9 590.4C681.6 598.2 682.2 606.1 682.9 613.9C683.6 621.7 684.2 629.7 684.9 637.4C685.6 645.1 686.2 651.3 687.0 660.0C687.8 668.6 688.8 679.6 689.7 689.4C690.7 699.2 691.6 709.0 692.4 718.8C693.3 728.6 694.1 738.4 694.9 748.2C695.7 758.0 696.5 767.8 697.4 777.6C698.2 787.4 699.0 797.3 700.0 807.1C700.9 816.9 702.1 829.6 702.8 836.5C703.6 843.5 702.8 837.0 704.2 848.8C705.6 860.6 708.6 887.9 711.1 907.4C713.5 927.0 715.9 946.5 718.7 966.1C721.5 985.7 725.3 1010.0 727.7 1024.8C730.2 1039.6 730.4 1040.3 733.2 1055.1C735.9 1069.9 740.5 1094.2 744.3 1113.7C748.1 1133.3 752.3 1155.2 755.8 1172.3C759.3 1189.4 762.0 1201.8 765.4 1216.4C768.8 1231.1 773.1 1248.1 776.3 1260.4C779.6 1272.6 781.7 1279.8 784.9 1289.7C788.0 1299.6 792.2 1311.5 795.1 1319.8C798.0 1328.0 799.5 1331.9 802.2 1339.3C804.9 1346.7 808.4 1356.4 811.2 1364.2C814.1 1371.9 816.6 1379.1 819.1 1385.9C821.7 1392.7 823.8 1398.1 826.8 1404.9C829.8 1411.7 833.5 1419.7 837.3 1426.8C841.0 1433.8 844.7 1440.3 849.2 1447.1C853.7 1453.8 859.2 1461.4 864.1 1467.2C868.9 1473.0 873.5 1477.7 878.3 1482.1C883.1 1486.5 888.0 1490.4 892.8 1493.8C897.6 1497.3 902.3 1500.2 907.2 1502.9C912.0 1505.7 916.9 1508.1 921.8 1510.3C926.6 1512.6 931.5 1514.6 936.3 1516.4C941.2 1518.3 946.1 1520.0 951.0 1521.6C955.9 1523.2 960.8 1524.6 965.7 1526.0C970.6 1527.4 975.4 1528.7 980.3 1529.9C985.2 1531.1 990.2 1532.3 995.1 1533.4C1000.0 1534.4 1004.8 1535.4 1009.7 1536.2C1014.6 1537.0 1019.3 1537.6 1024.4 1538.2C1029.4 1538.8 1030.9 1538.9 1040.0 1539.8C1049.1 1540.6 1066.0 1542.1 1079.1 1543.3C1092.2 1544.5 1105.3 1545.7 1118.3 1546.8C1131.4 1547.9 1144.4 1549.0 1157.4 1549.9C1170.5 1550.8 1182.9 1551.5 1196.6 1552.2C1210.4 1552.9 1216.1 1553.2 1240.0 1554.0C1263.9 1554.8 1306.7 1556.0 1340.0 1556.9C1373.3 1557.9 1406.7 1558.7 1440.0 1559.6C1473.3 1560.5 1506.7 1561.5 1540.0 1562.3C1573.3 1563.1 1606.7 1563.9 1640.0 1564.6C1673.3 1565.2 1706.7 1565.7 1740.0 1566.2C1773.3 1566.6 1808.3 1566.9 1840.0 1567.2C1871.7 1567.5 1902.3 1567.6 1930.0 1567.8C1957.8 1568.0 1993.8 1568.1 2006.5 1568.2" stroke="#05b90a" stroke-width="8.60" stroke-opacity="0.45"/>
<path class="curve" d="M388.7 1550.5C389.9 1549.3 393.6 1545.6 396.0 1543.1C398.4 1540.6 400.4 1538.4 402.9 1535.4C405.3 1532.5 409.0 1529.7 410.8 1525.6C412.6 1521.5 412.7 1515.8 413.7 1510.9C414.7 1506.0 415.7 1501.1 416.6 1496.2C417.6 1491.3 418.6 1486.4 419.6 1481.5C420.6 1476.6 421.5 1471.7 422.6 1466.8C423.7 1462.0 424.7 1457.2 426.1 1452.4C427.5 1447.5 429.2 1442.3 430.8 1437.8C432.4 1433.4 433.4 1428.4 435.7 1425.7C438.0 1423.0 441.7 1423.1 444.4 1421.8C447.1 1420.6 450.3 1420.2 451.9 1418.4C453.5 1416.6 453.1 1414.8 454.2 1410.9C455.3 1407.1 457.4 1399.9 458.8 1395.3C460.1 1390.7 461.1 1387.3 462.2 1383.4C463.3 1379.5 464.2 1375.9 465.4 1371.8C466.5 1367.6 467.8 1362.5 468.9 1358.6C470.0 1354.7 470.7 1351.1 471.8 1348.3C472.9 1345.5 474.1 1343.7 475.7 1342.0C477.3 1340.3 479.3 1339.5 481.3 1338.2C483.2 1336.9 485.3 1336.1 487.4 1334.2C489.5 1332.3 491.9 1330.1 493.7 1327.1C495.5 1324.1 496.7 1320.5 498.2 1316.1C499.7 1311.6 501.6 1305.5 503.0 1300.3C504.3 1295.1 505.2 1290.0 506.1 1284.8C507.1 1279.6 507.8 1274.3 508.6 1269.1C509.4 1263.9 510.2 1258.0 510.9 1253.5C511.5 1248.9 512.0 1245.4 512.5 1241.7C513.0 1238.0 513.1 1236.7 513.9 1231.0C514.6 1225.3 516.0 1214.6 516.9 1207.4C517.8 1200.2 518.5 1194.3 519.3 1187.8C520.2 1181.3 521.1 1174.2 521.9 1168.3C522.7 1162.5 523.3 1157.8 524.1 1152.6C524.9 1147.4 526.0 1141.4 526.7 1137.1C527.5 1132.8 527.7 1129.7 528.7 1126.8C529.7 1123.9 531.0 1121.7 532.6 1119.7C534.2 1117.7 536.1 1116.3 538.1 1115.0C540.1 1113.7 542.4 1113.0 544.5 1112.1C546.6 1111.2 548.7 1110.7 550.6 1109.6C552.5 1108.5 554.7 1107.7 556.1 1105.7C557.5 1103.7 558.1 1100.3 558.9 1097.7C559.7 1095.1 560.0 1094.5 561.0 1089.9C562.0 1085.2 563.9 1075.5 564.9 1069.7C566.0 1063.9 565.5 1068.3 567.2 1054.9C568.8 1041.4 572.4 1011.0 574.8 989.0C577.3 967.0 579.6 945.2 582.0 923.0C584.3 900.8 587.4 870.4 588.9 856.0C590.4 841.6 590.1 844.7 590.9 836.6C591.7 828.4 592.7 817.0 593.8 807.1C594.9 797.3 595.9 787.4 597.2 777.6C598.4 767.8 599.8 758.1 601.2 748.3C602.6 738.5 604.2 728.6 605.8 718.8C607.3 709.0 609.0 699.2 610.6 689.4C612.2 679.6 614.0 668.6 615.3 659.9C616.7 651.3 617.6 645.1 618.6 637.4C619.7 629.7 620.8 621.7 621.8 613.9C622.9 606.1 623.9 598.2 625.0 590.4C626.0 582.6 627.0 575.2 628.1 567.0C629.2 558.8 630.4 549.3 631.5 541.0C632.6 532.7 633.6 524.6 634.5 517.4C635.4 510.2 636.2 504.3 637.0 497.8C637.8 491.3 638.7 484.2 639.5 478.3C640.3 472.5 641.0 467.6 641.9 462.6C642.7 457.7 643.6 452.5 644.5 448.6C645.3 444.7 646.1 442.0 647.0 439.3C647.8 436.5 648.4 433.9 649.5 432.1C650.6 430.3 652.1 429.1 653.4 428.2C654.7 427.3 656.0 426.6 657.3 426.6C658.6 426.6 660.3 426.7 661.2 428.2C662.1 429.7 662.3 432.2 662.9 435.4C663.5 438.5 664.2 442.5 664.8 447.0C665.5 451.6 666.1 457.4 666.7 462.6C667.3 467.8 667.7 472.4 668.4 478.3C669.1 484.2 669.9 491.3 670.7 497.8C671.5 504.3 672.2 509.7 673.2 517.4C674.1 525.0 675.5 535.3 676.4 543.6C677.4 551.8 678.1 559.2 678.9 567.0C679.6 574.8 680.3 582.6 680.9 590.4C681.6 598.2 682.2 606.1 682.9 613.9C683.6 621.7 684.2 629.7 684.9 637.4C685.6 645.1 686.2 651.3 687.0 660.0C687.8 668.6 688.8 679.6 689.7 689.4C690.7 699.2 691.6 709.0 692.4 718.8C693.3 728.6 694.1 738.4 694.9 748.2C695.7 758.0 696.5 767.8 697.4 777.6C698.2 787.4 699.0 797.3 700.0 807.1C700.9 816.9 702.1 829.6 702.8 836.5C703.6 843.5 702.8 837.0 704.2 848.8C705.6 860.6 708.6 887.9 711.1 907.4C713.5 927.0 715.9 946.5 718.7 966.1C721.5 985.7 725.3 1010.0 727.7 1024.8C730.2 1039.6 730.4 1040.3 733.2 1055.1C735.9 1069.9 740.5 1094.2 744.3 1113.7C748.1 1133.3 752.3 1155.2 755.8 1172.3C759.3 1189.4 762.0 1201.8 765.4 1216.4C768.8 1231.1 773.1 1248.1 776.3 1260.4C779.6 1272.6 781.7 1279.8 784.9 1289.7C788.0 1299.6 792.2 1311.5 795.1 1319.8C798.0 1328.0 799.5 1331.9 802.2 1339.3C804.9 1346.7 808.4 1356.4 811.2 1364.2C814.1 1371.9 816.6 1379.1 819.1 1385.9C821.7 1392.7 823.8 1398.1 826.8 1404.9C829.8 1411.7 833.5 1419.7 837.3 1426.8C841.0 1433.8 844.7 1440.3 849.2 1447.1C853.7 1453.8 859.2 1461.4 864.1 1467.2C868.9 1473.0 873.5 1477.7 878.3 1482.1C883.1 1486.5 888.0 1490.4 892.8 1493.8C897.6 1497.3 902.3 1500.2 907.2 1502.9C912.0 1505.7 916.9 1508.1 921.8 1510.3C926.6 1512.6 931.5 1514.6 936.3 1516.4C941.2 1518.3 946.1 1520.0 951.0 1521.6C955.9 1523.2 960.8 1524.6 965.7 1526.0C970.6 1527.4 975.4 1528.7 980.3 1529.9C985.2 1531.1 990.2 1532.3 995.1 1533.4C1000.0 1534.4 1004.8 1535.4 1009.7 1536.2C1014.6 1537.0 1019.3 1537.6 1024.4 1538.2C1029.4 1538.8 1030.9 1538.9 1040.0 1539.8C1049.1 1540.6 1066.0 1542.1 1079.1 1543.3C1092.2 1544.5 1105.3 1545.7 1118.3 1546.8C1131.4 1547.9 1144.4 1549.0 1157.4 1549.9C1170.5 1550.8 1182.9 1551.5 1196.6 1552.2C1210.4 1552.9 1216.1 1553.2 1240.0 1554.0C1263.9 1554.8 1306.7 1556.0 1340.0 1556.9C1373.3 1557.9 1406.7 1558.7 1440.0 1559.6C1473.3 1560.5 1506.7 1561.5 1540.0 1562.3C1573.3 1563.1 1606.7 1563.9 1640.0 1564.6C1673.3 1565.2 1706.7 1565.7 1740.0 1566.2C1773.3 1566.6 1808.3 1566.9 1840.0 1567.2C1871.7 1567.5 1902.3 1567.6 1930.0 1567.8C1957.8 1568.0 1993.8 1568.1 2006.5 1568.2" stroke="#05b90a" stroke-width="5.40"/>
<path class="curve" d="M498.9 1560.8C500.8 1557.9 508.1 1549.1 510.6 1543.2C513.1 1537.3 512.7 1533.3 513.9 1525.4C515.2 1517.6 516.8 1505.9 518.0 1496.1C519.1 1486.4 520.0 1476.6 520.8 1466.8C521.7 1457.0 522.3 1447.3 523.1 1437.5C523.8 1427.7 524.4 1417.9 525.1 1408.1C525.8 1398.3 526.4 1388.5 527.1 1378.7C527.8 1368.9 528.5 1359.2 529.3 1349.4C530.0 1339.6 530.9 1329.9 531.7 1320.0C532.5 1310.1 533.3 1299.9 534.2 1290.0C535.0 1280.1 535.8 1270.5 536.7 1260.6C537.7 1250.8 538.8 1239.9 539.6 1231.0C540.5 1222.1 541.2 1215.3 542.0 1207.4C542.8 1199.6 543.5 1191.7 544.2 1183.9C544.9 1176.1 545.6 1168.2 546.3 1160.4C546.9 1152.6 547.5 1144.8 548.1 1137.0C548.7 1129.2 549.3 1121.3 549.9 1113.5C550.5 1105.7 550.9 1099.8 551.7 1090.0C552.6 1080.3 553.3 1071.9 555.0 1055.0C556.6 1038.2 559.3 1011.0 561.5 989.0C563.6 967.0 565.5 948.3 567.9 922.9C570.3 897.6 574.1 855.7 575.9 836.7C577.7 817.7 577.7 818.0 578.7 809.0C579.6 800.0 580.6 791.8 581.5 782.5C582.5 773.2 583.6 762.9 584.6 753.1C585.5 743.3 586.5 733.5 587.3 723.7C588.2 713.9 589.0 704.9 589.8 694.3C590.6 683.7 591.6 669.5 592.2 660.0C592.9 650.5 593.1 646.1 593.6 637.4C594.1 628.7 594.7 617.4 595.3 607.7C595.8 598.1 596.3 588.9 596.8 579.5C597.3 570.1 597.8 561.2 598.3 551.3C598.8 541.4 599.3 531.8 599.9 520.0C600.6 508.2 601.3 494.3 602.1 480.3C602.9 466.3 603.8 450.9 604.6 436.2C605.4 421.5 606.3 405.7 607.2 392.2C608.0 378.7 608.7 367.7 609.6 355.4C610.4 343.2 611.5 329.7 612.4 318.7C613.3 307.7 613.9 301.3 615.0 289.4C616.1 277.5 617.8 259.1 618.9 247.1C620.1 235.2 620.9 226.6 622.0 217.6C623.0 208.6 624.1 200.0 625.1 193.2C626.1 186.3 626.8 182.0 627.9 176.6C629.0 171.2 630.4 165.5 631.6 161.0C632.9 156.4 634.4 152.3 635.5 149.2C636.6 146.2 637.5 144.1 638.3 142.6C639.1 141.1 639.7 140.9 640.3 140.4C640.9 139.9 641.5 139.9 641.8 139.8" stroke="#000000" stroke-width="8.30" stroke-opacity="0.45" stroke-dasharray="22.70 6.00" stroke-dashoffset="28.29"/>
<path class="curve" d="M498.9 1560.8C500.8 1557.9 508.1 1549.1 510.6 1543.2C513.1 1537.3 512.7 1533.3 513.9 1525.4C515.2 1517.6 516.8 1505.9 518.0 1496.1C519.1 1486.4 520.0 1476.6 520.8 1466.8C521.7 1457.0 522.3 1447.3 523.1 1437.5C523.8 1427.7 524.4 1417.9 525.1 1408.1C525.8 1398.3 526.4 1388.5 527.1 1378.7C527.8 1368.9 528.5 1359.2 529.3 1349.4C530.0 1339.6 530.9 1329.9 531.7 1320.0C532.5 1310.1 533.3 1299.9 534.2 1290.0C535.0 1280.1 535.8 1270.5 536.7 1260.6C537.7 1250.8 538.8 1239.9 539.6 1231.0C540.5 1222.1 541.2 1215.3 542.0 1207.4C542.8 1199.6 543.5 1191.7 544.2 1183.9C544.9 1176.1 545.6 1168.2 546.3 1160.4C546.9 1152.6 547.5 1144.8 548.1 1137.0C548.7 1129.2 549.3 1121.3 549.9 1113.5C550.5 1105.7 550.9 1099.8 551.7 1090.0C552.6 1080.3 553.3 1071.9 555.0 1055.0C556.6 1038.2 559.3 1011.0 561.5 989.0C563.6 967.0 565.5 948.3 567.9 922.9C570.3 897.6 574.1 855.7 575.9 836.7C577.7 817.7 577.7 818.0 578.7 809.0C579.6 800.0 580.6 791.8 581.5 782.5C582.5 773.2 583.6 762.9 584.6 753.1C585.5 743.3 586.5 733.5 587.3 723.7C588.2 713.9 589.0 704.9 589.8 694.3C590.6 683.7 591.6 669.5 592.2 660.0C592.9 650.5 593.1 646.1 593.6 637.4C594.1 628.7 594.7 617.4 595.3 607.7C595.8 598.1 596.3 588.9 596.8 579.5C597.3 570.1 597.8 561.2 598.3 551.3C598.8 541.4 599.3 531.8 599.9 520.0C600.6 508.2 601.3 494.3 602.1 480.3C602.9 466.3 603.8 450.9 604.6 436.2C605.4 421.5 606.3 405.7 607.2 392.2C608.0 378.7 608.7 367.7 609.6 355.4C610.4 343.2 611.5 329.7 612.4 318.7C613.3 307.7 613.9 301.3 615.0 289.4C616.1 277.5 617.8 259.1 618.9 247.1C620.1 235.2 620.9 226.6 622.0 217.6C623.0 208.6 624.1 200.0 625.1 193.2C626.1 186.3 626.8 182.0 627.9 176.6C629.0 171.2 630.4 165.5 631.6 161.0C632.9 156.4 634.4 152.3 635.5 149.2C636.6 146.2 637.5 144.1 638.3 142.6C639.1 141.1 639.7 140.9 640.3 140.4C640.9 139.9 641.5 139.9 641.8 139.8" stroke="#000000" stroke-width="5.10" stroke-dasharray="20.7 8.0" stroke-dashoffset="27.29"/>
<path class="curve" d="M643.4 141.3C643.7 142.1 644.3 143.4 645.2 146.3C646.1 149.2 647.6 154.4 648.7 158.9C649.8 163.4 651.0 168.6 652.0 173.5C653.1 178.4 654.0 183.3 655.0 188.2C655.9 193.1 656.9 198.0 657.7 202.9C658.6 207.8 659.5 212.7 660.3 217.6C661.2 222.5 662.0 227.5 662.9 232.4C663.7 237.3 664.6 242.2 665.4 247.1C666.2 252.0 666.7 254.8 667.7 261.9C668.7 268.9 670.1 280.0 671.3 289.4C672.4 298.9 673.5 308.9 674.5 318.7C675.6 328.5 676.5 338.3 677.5 348.1C678.5 357.9 679.4 367.7 680.4 377.5C681.3 387.3 682.2 397.0 683.1 406.8C684.1 416.6 684.9 426.4 685.8 436.2C686.7 446.0 687.6 455.8 688.6 465.6C689.6 475.4 690.6 485.1 691.6 495.0C692.7 504.9 693.9 516.9 694.8 525.0C695.6 533.1 696.0 536.5 696.6 543.5C697.3 550.5 698.1 559.2 698.8 567.0C699.6 574.8 700.3 582.6 701.0 590.4C701.7 598.2 702.5 606.1 703.2 613.9C704.0 621.7 704.8 629.7 705.6 637.4C706.4 645.1 707.0 651.3 708.0 660.0C709.0 668.6 710.4 679.6 711.6 689.4C712.8 699.2 714.0 709.0 715.2 718.8C716.4 728.6 717.5 738.4 718.7 748.2C719.9 758.0 721.1 767.8 722.4 777.6C723.6 787.4 724.9 797.3 726.2 807.1C727.5 816.9 728.7 825.9 730.3 836.5C731.8 847.1 733.8 860.2 735.4 870.8C737.0 881.4 738.4 890.3 739.9 900.1C741.3 909.9 742.8 919.7 744.2 929.5C745.6 939.3 747.0 949.2 748.2 959.0C749.5 968.7 750.7 979.2 751.7 988.2C752.8 997.2 753.6 1004.6 754.6 1013.2C755.5 1021.8 756.7 1032.6 757.5 1039.6C758.3 1046.6 758.1 1045.1 759.4 1055.0C760.7 1064.9 763.6 1086.8 765.3 1099.1C766.9 1111.3 768.0 1118.6 769.3 1128.4C770.6 1138.2 771.9 1148.0 773.2 1157.8C774.5 1167.6 775.7 1177.4 777.1 1187.2C778.4 1196.9 779.8 1206.7 781.2 1216.5C782.7 1226.3 784.1 1236.1 785.6 1245.9C787.1 1255.7 788.6 1265.5 790.1 1275.3C791.6 1285.1 793.4 1297.1 794.6 1304.6C795.8 1312.0 795.7 1311.3 797.3 1320.0C798.9 1328.6 802.1 1345.7 804.3 1356.7C806.4 1367.7 808.3 1377.0 810.3 1386.0C812.2 1395.1 813.8 1402.4 815.8 1411.0C817.7 1419.6 819.7 1428.2 822.1 1437.4C824.4 1446.7 827.2 1457.3 830.0 1466.5C832.8 1475.7 835.7 1484.0 838.9 1492.9C842.2 1501.7 844.6 1511.6 849.6 1519.7C854.6 1527.8 861.6 1535.3 868.7 1541.7C875.8 1548.1 883.8 1553.7 892.2 1557.9C900.6 1562.1 911.0 1564.4 919.0 1566.9C927.0 1569.3 933.6 1570.9 940.2 1572.3C946.8 1573.8 955.5 1575.1 958.5 1575.6" stroke="#000000" stroke-width="8.30" stroke-opacity="0.45" stroke-dasharray="22.70 6.00" stroke-dashoffset="23.15"/>
<path class="curve" d="M643.4 141.3C643.7 142.1 644.3 143.4 645.2 146.3C646.1 149.2 647.6 154.4 648.7 158.9C649.8 163.4 651.0 168.6 652.0 173.5C653.1 178.4 654.0 183.3 655.0 188.2C655.9 193.1 656.9 198.0 657.7 202.9C658.6 207.8 659.5 212.7 660.3 217.6C661.2 222.5 662.0 227.5 662.9 232.4C663.7 237.3 664.6 242.2 665.4 247.1C666.2 252.0 666.7 254.8 667.7 261.9C668.7 268.9 670.1 280.0 671.3 289.4C672.4 298.9 673.5 308.9 674.5 318.7C675.6 328.5 676.5 338.3 677.5 348.1C678.5 357.9 679.4 367.7 680.4 377.5C681.3 387.3 682.2 397.0 683.1 406.8C684.1 416.6 684.9 426.4 685.8 436.2C686.7 446.0 687.6 455.8 688.6 465.6C689.6 475.4 690.6 485.1 691.6 495.0C692.7 504.9 693.9 516.9 694.8 525.0C695.6 533.1 696.0 536.5 696.6 543.5C697.3 550.5 698.1 559.2 698.8 567.0C699.6 574.8 700.3 582.6 701.0 590.4C701.7 598.2 702.5 606.1 703.2 613.9C704.0 621.7 704.8 629.7 705.6 637.4C706.4 645.1 707.0 651.3 708.0 660.0C709.0 668.6 710.4 679.6 711.6 689.4C712.8 699.2 714.0 709.0 715.2 718.8C716.4 728.6 717.5 738.4 718.7 748.2C719.9 758.0 721.1 767.8 722.4 777.6C723.6 787.4 724.9 797.3 726.2 807.1C727.5 816.9 728.7 825.9 730.3 836.5C731.8 847.1 733.8 860.2 735.4 870.8C737.0 881.4 738.4 890.3 739.9 900.1C741.3 909.9 742.8 919.7 744.2 929.5C745.6 939.3 747.0 949.2 748.2 959.0C749.5 968.7 750.7 979.2 751.7 988.2C752.8 997.2 753.6 1004.6 754.6 1013.2C755.5 1021.8 756.7 1032.6 757.5 1039.6C758.3 1046.6 758.1 1045.1 759.4 1055.0C760.7 1064.9 763.6 1086.8 765.3 1099.1C766.9 1111.3 768.0 1118.6 769.3 1128.4C770.6 1138.2 771.9 1148.0 773.2 1157.8C774.5 1167.6 775.7 1177.4 777.1 1187.2C778.4 1196.9 779.8 1206.7 781.2 1216.5C782.7 1226.3 784.1 1236.1 785.6 1245.9C787.1 1255.7 788.6 1265.5 790.1 1275.3C791.6 1285.1 793.4 1297.1 794.6 1304.6C795.8 1312.0 795.7 1311.3 797.3 1320.0C798.9 1328.6 802.1 1345.7 804.3 1356.7C806.4 1367.7 808.3 1377.0 810.3 1386.0C812.2 1395.1 813.8 1402.4 815.8 1411.0C817.7 1419.6 819.7 1428.2 822.1 1437.4C824.4 1446.7 827.2 1457.3 830.0 1466.5C832.8 1475.7 835.7 1484.0 838.9 1492.9C842.2 1501.7 844.6 1511.6 849.6 1519.7C854.6 1527.8 861.6 1535.3 868.7 1541.7C875.8 1548.1 883.8 1553.7 892.2 1557.9C900.6 1562.1 911.0 1564.4 919.0 1566.9C927.0 1569.3 933.6 1570.9 940.2 1572.3C946.8 1573.8 955.5 1575.1 958.5 1575.6" stroke="#000000" stroke-width="5.10" stroke-dasharray="20.7 8.0" stroke-dashoffset="22.15"/>
<text class="tick" x="269.5" y="1592.2" text-anchor="end">0</text>
<text class="tick" x="269.5" y="1424.0" text-anchor="end">0,02</text>
<text class="tick" x="269.5" y="1255.7" text-anchor="end">0,04</text>
<text class="tick" x="269.5" y="1087.5" text-anchor="end">0,06</text>
<text class="tick" x="269.5" y="919.2" text-anchor="end">0,08</text>
<text class="tick" x="269.5" y="751.0" text-anchor="end">0,1</text>
<text class="tick" x="269.5" y="582.7" text-anchor="end">0,12</text>
<text class="tick" x="269.5" y="414.5" text-anchor="end">0,14</text>
<text class="tick" x="269.5" y="246.2" text-anchor="end">0,16</text>
<text class="tick" x="269.5" y="78.0" text-anchor="end">0,18</text>
<text class="tick" x="306.2" y="1645.6" text-anchor="middle">0</text>
<text class="tick" x="477.8" y="1645.6" text-anchor="middle">5</text>
<text class="tick" x="649.4" y="1645.6" text-anchor="middle">10</text>
<text class="tick" x="820.9" y="1645.6" text-anchor="middle">15</text>
<text class="tick" x="992.5" y="1645.6" text-anchor="middle">20</text>
<text class="tick" x="1164.1" y="1645.6" text-anchor="middle">25</text>
<text class="tick" x="1335.7" y="1645.6" text-anchor="middle">30</text>
<text class="tick" x="1507.3" y="1645.6" text-anchor="middle">35</text>
<text class="tick" x="1678.8" y="1645.6" text-anchor="middle">40</text>
<text class="tick" x="1850.4" y="1645.6" text-anchor="middle">45</text>
<text class="tick" x="2022.0" y="1645.6" text-anchor="middle">50</text>
<text class="title" x="1141.8" y="1769.2" text-anchor="middle">Pore Diameter (nm)</text>
<text class="title" transform="translate(108.0 819.5) rotate(-90)" text-anchor="middle">dV/dD Pore Volume (cm³/g·nm)</text>
<path d="M1304.6 178.0H1408.5" stroke="#dc0a6e" stroke-width="8.60" stroke-opacity="0.45" fill="none"/>
<path d="M1305.6 178.0H1407.5" stroke="#dc0a6e" stroke-width="5.40" fill="none"/>
<text class="leg" x="1417.0" y="191.55">10%Cu/SiO2-MW-300</text>
<path d="M1304.6 292.5H1408.5" stroke="#1400ff" stroke-width="8.60" stroke-opacity="0.45" fill="none"/>
<path d="M1305.6 292.5H1407.5" stroke="#1400ff" stroke-width="5.40" fill="none"/>
<text class="leg" x="1417.0" y="308.40">10%Cu/SIO2-MW</text>
<path d="M1304.6 406.5H1408.5" stroke="#d40000" stroke-width="8.60" stroke-opacity="0.45" fill="none"/>
<path d="M1305.6 406.5H1407.5" stroke="#d40000" stroke-width="5.40" fill="none"/>
<text class="leg" x="1417.0" y="422.90">10%Cu/SiO2-DPU-300</text>
<path d="M1304.6 522.5H1408.5" stroke="#05b90a" stroke-width="8.60" stroke-opacity="0.45" fill="none"/>
<path d="M1305.6 522.5H1407.5" stroke="#05b90a" stroke-width="5.40" fill="none"/>
<text class="leg" x="1417.0" y="537.80">10%Cu/SiO2-DPU</text>
<path d="M1305.6 637.9H1408.5" stroke="#000000" stroke-width="8.60" stroke-opacity="0.45" fill="none" stroke-dasharray="22.60 6.30" stroke-dashoffset="1.00"/>
<path d="M1305.6 637.9H1407.5" stroke="#000000" stroke-width="5.40" fill="none" stroke-dasharray="20.6 8.3"/>
<text class="leg" x="1417.0" y="654.00">SiO2_KSKG</text>
</g></svg>
</body></html>
